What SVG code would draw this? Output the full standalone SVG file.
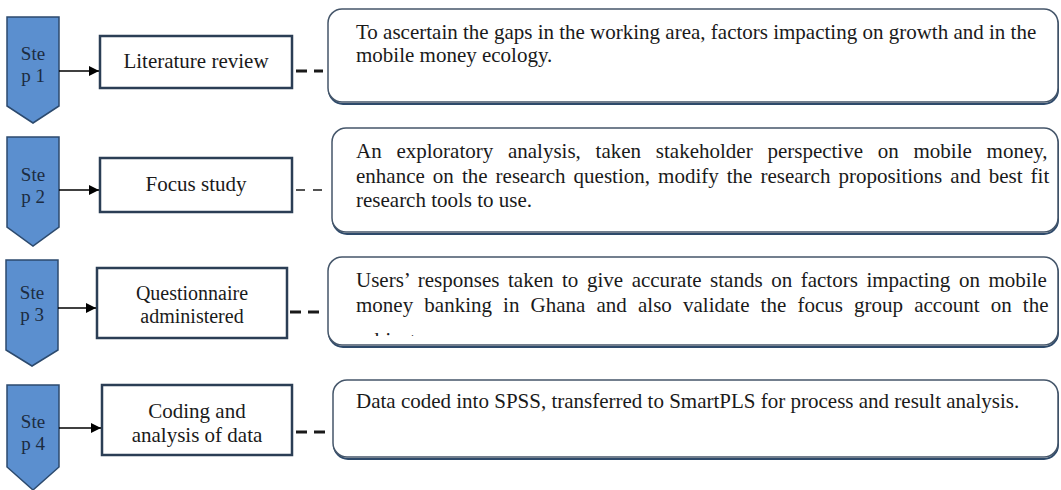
<svg xmlns="http://www.w3.org/2000/svg" width="1061" height="490" viewBox="0 0 1061 490">
  <style>
    .step { fill: #5b8fcf; stroke: #2c4a6e; stroke-width: 1.5; }
    .steptxt { font-family: "Liberation Serif", "Times New Roman", serif; font-size: 19px; fill: #1c2b40; text-anchor: middle; }
    .box { fill: #ffffff; stroke: #2b3e55; stroke-width: 2.5; }
    .boxtxt { font-family: "Liberation Serif", "Times New Roman", serif; font-size: 21px; fill: #1a1a1a; text-anchor: middle; }
    .boxtxt.two { font-size: 20px; }
    .note { fill: #ffffff; stroke: #45566a; stroke-width: 1.5; }
    .noteshadow { fill: none; stroke: #2e4a6b; stroke-width: 2; }
    .notetxt { font-family: "Liberation Serif", "Times New Roman", serif; font-size: 21px; fill: #1a1a1a; }
    .arrow { stroke: #000000; stroke-width: 1.6; fill: none; marker-end: url(#head); }
    .dash { stroke: #1a1a1a; fill: none; }
    .thick { stroke-width: 3; stroke-dasharray: 11 7; }
    .thin { stroke-width: 1.5; stroke-dasharray: 9 8; }
  </style>
  <defs>
    <marker id="head" viewBox="0 0 10 10" refX="10" refY="5" markerWidth="11" markerHeight="10" markerUnits="userSpaceOnUse" orient="auto">
      <path d="M0,0 L10,5 L0,10 z" fill="#000000"/>
    </marker>
    <!-- the overflowing last line of panel 3 is cut off by the panel -->
    <clipPath id="clip3">
      <rect x="330" y="258" width="728" height="78"/>
    </clipPath>
  </defs>

  <rect x="0" y="0" width="1061" height="490" fill="#ffffff"/>

  <!-- step markers -->
  <g id="step1">
    <path class="step" d="M7,17 H59 V106 L33,123 L7,106 Z"/>
    <text class="steptxt" x="33" y="60">Ste</text>
    <text class="steptxt" x="33" y="82">p 1</text>
  </g>
  <g id="step2">
    <path class="step" d="M7,137 H59 V227 L33,246 L7,227 Z"/>
    <text class="steptxt" x="33" y="181">Ste</text>
    <text class="steptxt" x="33" y="203">p 2</text>
  </g>
  <g id="step3">
    <path class="step" d="M6,260 H58 V350 L32,366 L6,350 Z"/>
    <text class="steptxt" x="32" y="299">Ste</text>
    <text class="steptxt" x="32" y="321">p 3</text>
  </g>
  <g id="step4">
    <path class="step" d="M7,385 H59 V467 L33,490 L7,467 Z"/>
    <text class="steptxt" x="33" y="428">Ste</text>
    <text class="steptxt" x="33" y="450">p 4</text>
  </g>

  <!-- activity boxes -->
  <g id="literature">
    <rect class="box" x="100" y="36" width="192" height="52"/>
    <text class="boxtxt" x="196" y="68">Literature review</text>
  </g>
  <g id="focus">
    <rect class="box" x="100" y="158" width="192" height="54"/>
    <text class="boxtxt" x="196" y="191">Focus study</text>
  </g>
  <g id="questionnaire">
    <rect class="box" x="97" y="268" width="190" height="70"/>
    <text class="boxtxt two" x="192" y="300">Questionnaire</text>
    <text class="boxtxt two" x="192" y="323">administered</text>
  </g>
  <g id="coding">
    <rect class="box" x="102" y="385" width="190" height="70"/>
    <text class="boxtxt" x="197" y="418">Coding and</text>
    <text class="boxtxt" x="197" y="442">analysis of data</text>
  </g>

  <!-- description panels -->
  <g id="note1">
    <rect class="noteshadow" x="329" y="11" width="729" height="93" rx="14"/>
    <rect class="note" x="328" y="9" width="730" height="93" rx="14"/>
    <text class="notetxt" x="356" y="39">To ascertain the gaps in the working area, factors impacting on growth and in the</text>
    <text class="notetxt" x="356" y="62">mobile money ecology.</text>
  </g>
  <g id="note2">
    <rect class="noteshadow" x="333" y="130" width="725" height="104" rx="14"/>
    <rect class="note" x="332" y="128" width="726" height="104" rx="14"/>
    <text class="notetxt" x="356" y="158" style="word-spacing:9.5px">An exploratory analysis, taken stakeholder perspective on mobile money,</text>
    <text class="notetxt" x="356" y="183" style="word-spacing:2.8px">enhance on the research question, modify the research propositions and best fit</text>
    <text class="notetxt" x="356" y="207">research tools to use.</text>
  </g>
  <g id="note3">
    <rect class="noteshadow" x="329" y="259" width="729" height="88" rx="14"/>
    <rect class="note" x="328" y="257" width="730" height="88" rx="14"/>
    <text class="notetxt" x="356" y="287" style="word-spacing:3.3px">Users’ responses taken to give accurate stands on factors impacting on mobile</text>
    <text class="notetxt" x="356" y="312" style="word-spacing:5.9px">money banking in Ghana and also validate the focus group account on the</text>
    <g clip-path="url(#clip3)">
      <text class="notetxt" x="356" y="347">subject.</text>
    </g>
  </g>
  <g id="note4">
    <rect class="noteshadow" x="334" y="382" width="724" height="77" rx="14"/>
    <rect class="note" x="333" y="380" width="725" height="77" rx="14"/>
    <text class="notetxt" x="356" y="408">Data coded into SPSS, transferred to SmartPLS for process and result analysis.</text>
  </g>

  <!-- connectors -->
  <g id="connectors">
    <line class="arrow" x1="59" y1="71" x2="99" y2="71"/>
    <line class="arrow" x1="59" y1="190" x2="99" y2="190"/>
    <line class="arrow" x1="58" y1="308" x2="96" y2="308"/>
    <line class="arrow" x1="59" y1="428" x2="101" y2="428"/>
    <line class="dash thick" x1="296" y1="71" x2="323" y2="71"/>
    <line class="dash thin" x1="296" y1="190" x2="322" y2="190"/>
    <line class="dash thick" x1="290" y1="312" x2="319" y2="312"/>
    <line class="dash thick" x1="296" y1="432" x2="326" y2="432"/>
  </g>
</svg>
